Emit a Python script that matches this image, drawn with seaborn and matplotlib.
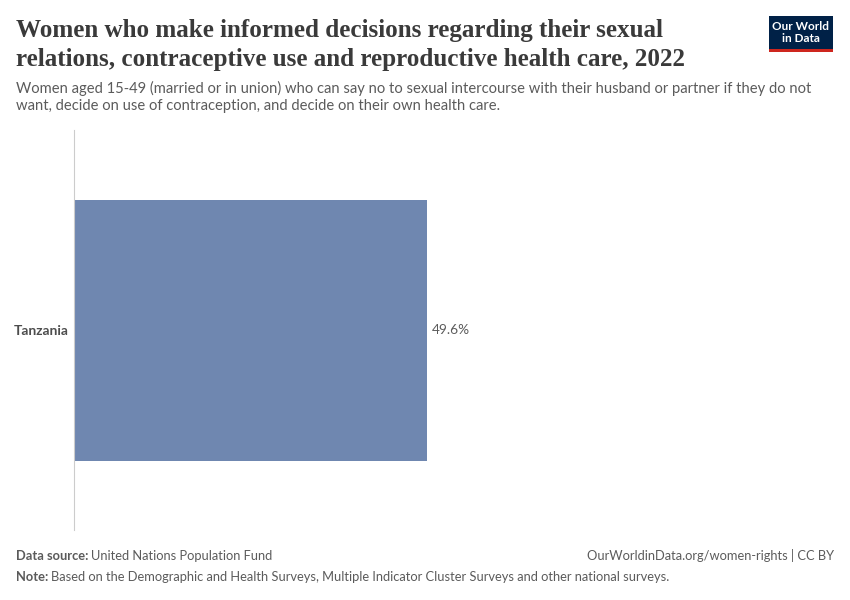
import matplotlib
matplotlib.use("Agg")
import matplotlib.pyplot as plt
import seaborn as sns
import pandas as pd
from matplotlib.patches import Rectangle

countries = ["Tanzania"]
values = [49.6]
value_labels = ["49.6%"]

sns.set_theme(style="white")
plt.rcParams['font.family'] = ['Lato', 'DejaVu Sans']

df = pd.DataFrame({"country": countries, "value": values})

fig = plt.figure(figsize=(8.5, 6), dpi=100)
ax = fig.add_axes([74/850, 1-530/600, (835-74)/850, 400/600])

sns.barplot(data=df, x="value", y="country", color="#6f87b0", width=0.6525,
            saturation=1, ax=ax, edgecolor="none")
ax.set_xlim(0, 49.6*761/353)
ax.set_ylim(0.5, -0.5)
ax.set_xlabel("")
ax.set_ylabel("")
ax.set_xticks([])
for s in ["top", "right", "bottom"]:
    ax.spines[s].set_visible(False)
ax.spines["left"].set_color("#cccccc")
ax.spines["left"].set_linewidth(0.8)
ax.tick_params(axis="y", length=0, pad=4)
for lbl in ax.get_yticklabels():
    lbl.set_fontweight("bold")
    lbl.set_color("#4d4d4d")
    lbl.set_fontsize(10)

for i, (v, t) in enumerate(zip(values, value_labels)):
    ax.text(v + 0.7, i, t, va="center", ha="left", fontsize=9.8, color="#5b5b5b")

fig.text(16/850, 1-45/600, "Women who make informed decisions regarding their sexual\nrelations, contraceptive use and reproductive health care, 2022",
         fontsize=18.1, fontweight="bold", family=["Liberation Serif", "DejaVu Serif"], color="#3a3a3a",
         va="center", ha="left", linespacing=1.38)
fig.text(16/850, 1-97/600, "Women aged 15-49 (married or in union) who can say no to sexual intercourse with their husband or partner if they do not\nwant, decide on use of contraception, and decide on their own health care.",
         fontsize=10.65, color="#5b5b5b", va="center", ha="left", linespacing=1.3)

renderer = fig.canvas.get_renderer()

def label_pair(x, y, bold, rest):
    t1 = fig.text(x, y, bold, fontsize=9.3, fontweight="bold", color="#5b5b5b", va="center", ha="left")
    bb = t1.get_window_extent(renderer=renderer)
    fig.text(bb.x1 / fig.bbox.width + 3/850, y, rest, fontsize=9.3, color="#5b5b5b", va="center", ha="left")

label_pair(16/850, 1-556/600, "Data source:", "United Nations Population Fund")
fig.text(834/850, 1-556/600, "OurWorldinData.org/women-rights | CC BY",
         fontsize=9.3, color="#5b5b5b", va="center", ha="right")
label_pair(16/850, 1-577/600, "Note:", "Based on the Demographic and Health Surveys, Multiple Indicator Cluster Surveys and other national surveys.")

# logo
fig.patches.append(Rectangle((769/850, 1-49/600), 64/850, 33/600, transform=fig.transFigure,
                             facecolor="#002147", edgecolor="none"))
fig.patches.append(Rectangle((769/850, 1-52/600), 64/850, 3/600, transform=fig.transFigure,
                             facecolor="#ce261e", edgecolor="none"))
fig.text(801/850, 1-32.5/600, "Our World\nin Data", fontsize=8.5, fontweight="bold", color="white",
         ha="center", va="center", linespacing=1.0)

fig.savefig("out.png", dpi=100)
